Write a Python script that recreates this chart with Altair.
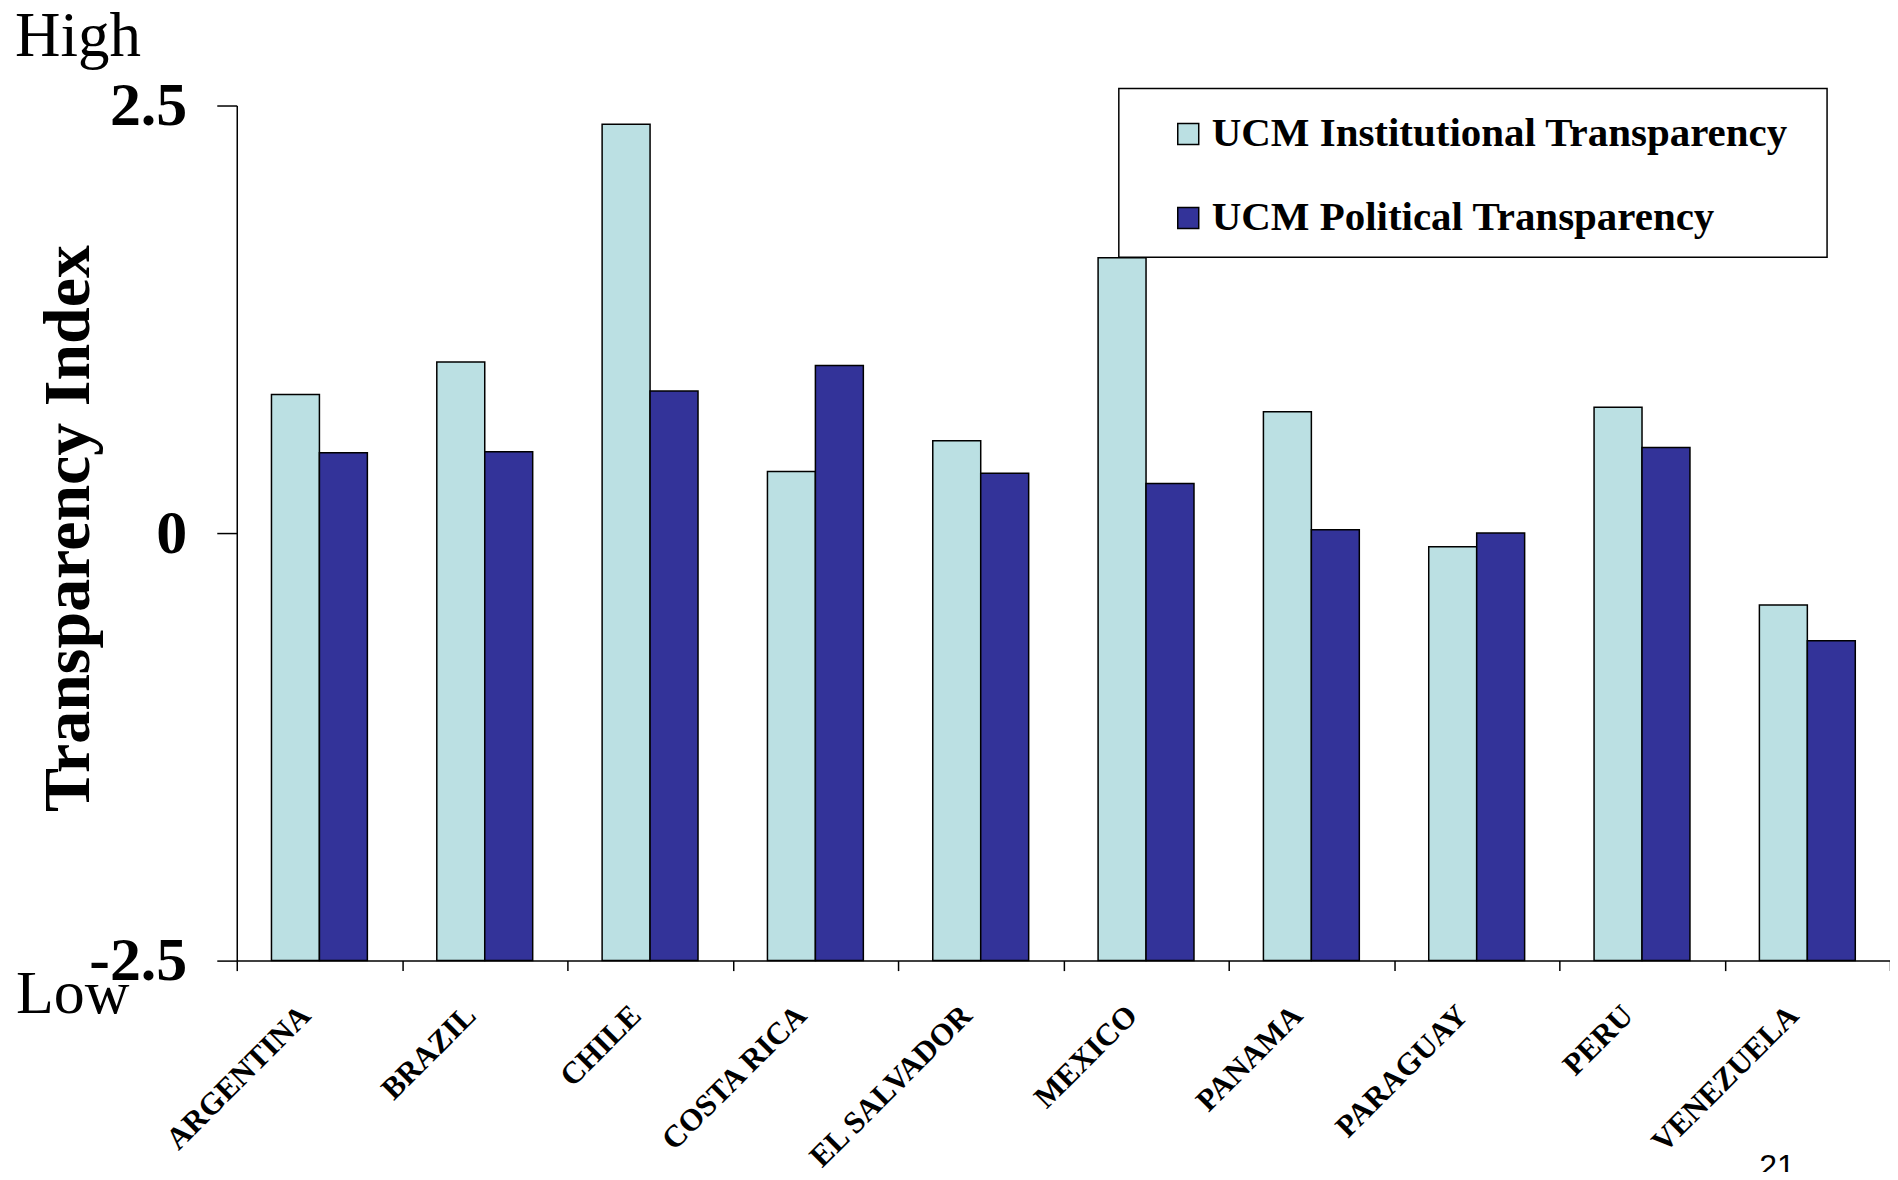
import altair as alt
import pandas as pd

countries = ["ARGENTINA", "BRAZIL", "CHILE", "COSTA RICA", "EL SALVADOR",
             "MEXICO", "PANAMA", "PARAGUAY", "PERU", "VENEZUELA"]
institutional = [0.81, 1.00, 2.39, 0.36, 0.54, 1.61, 0.71, -0.08, 0.735, -0.42]
political = [0.47, 0.475, 0.83, 0.98, 0.35, 0.29, 0.02, 0.0, 0.50, -0.63]
series_names = ["UCM Institutional Transparency", "UCM Political Transparency"]
series_colors = ["#BBE0E3", "#333399"]
y_ticks = [-2.5, 0, 2.5]
y_title = "Transparency Index"
high_label = ["High"]
low_label = ["Low"]
page_number = ["21"]

rows = []
for c, a, b in zip(countries, institutional, political):
    rows.append({"country": c, "series": series_names[0], "value": a})
    rows.append({"country": c, "series": series_names[1], "value": b})
df = pd.DataFrame(rows)

FONT = "Liberation Serif"

bars = alt.Chart(df).mark_bar(stroke="black", strokeWidth=1.5).encode(
    x=alt.X(
        "country:N", sort=countries,
        scale=alt.Scale(paddingInner=0, paddingOuter=0),
        axis=alt.Axis(
            title=None, labelAngle=-45, labelAlign="right", labelBaseline="middle",
            labelFont=FONT, labelFontWeight="bold", labelFontSize=31,
            labelColor="black", labelPadding=40, labelOffset=-14,
            tickBand="extent", tickSize=10,
            tickColor="black", tickWidth=1.5, domainColor="black", domainWidth=1.5,
            grid=False, labelLimit=1000,
        ),
    ),
    xOffset=alt.XOffset("series:N", sort=series_names,
                        scale=alt.Scale(paddingInner=0, paddingOuter=0.724)),
    y=alt.Y(
        "value:Q",
        scale=alt.Scale(domain=[-2.5, 2.5], nice=False, zero=False),
        axis=alt.Axis(
            values=y_ticks, title=y_title, grid=False, format=".1~f",
            labelExpr="replace(datum.label, '\u2212', '-')",
            labelFont=FONT, labelFontWeight="bold", labelFontSize=62,
            labelColor="black", labelPadding=30, tickSize=20, tickColor="black",
            tickWidth=1.5, domainColor="black", domainWidth=1.5,
            titleFont=FONT, titleFontWeight="bold", titleFontSize=66,
            titleColor="black", titleX=-148, titleY=423, titleAngle=270,
            titleBaseline="alphabetic", titleAlign="center",
        ),
    ),
    y2=alt.datum(-2.5),
    color=alt.Color(
        "series:N",
        scale=alt.Scale(domain=series_names, range=series_colors),
        legend=alt.Legend(
            title=None, orient="none", legendX=932, legendY=8, padding=0,
            symbolType="square", symbolSize=441, symbolStrokeColor="black",
            symbolStrokeWidth=1.5, symbolOpacity=1,
            labelFont=FONT, labelFontWeight="bold", labelFontSize=41,
            labelColor="black", labelOffset=3, labelLimit=1000, rowPadding=42,
        ),
    ),
)

box = alt.Chart(pd.DataFrame({"k": [0]})).mark_rect(
    fill="white", stroke="black", strokeWidth=1.5
).encode(x=alt.value(883), x2=alt.value(1592), y=alt.value(-17), y2=alt.value(152))

high = alt.Chart(pd.DataFrame({"t": high_label})).mark_text(
    font=FONT, fontSize=63, color="black", align="left", baseline="alphabetic"
).encode(text="t:N", x=alt.value(-222), y=alt.value(-50))

low = alt.Chart(pd.DataFrame({"t": low_label})).mark_text(
    font=FONT, fontSize=62, color="black", align="left", baseline="alphabetic"
).encode(text="t:N", x=alt.value(-221), y=alt.value(908))

page = alt.Chart(pd.DataFrame({"t": page_number})).mark_text(
    font="Liberation Sans", fontSize=32, color="black", align="left", baseline="alphabetic"
).encode(text="t:N", x=alt.value(1524), y=alt.value(1073))

chart = alt.layer(bars, box, high, low, page).properties(
    width=1655, height=856,
    autosize=alt.AutoSizeParams(type="none"),
    padding={"left": 229, "top": 97, "right": 0, "bottom": 211},
    background="white",
).configure_view(stroke=None).configure_legend(labelFont=FONT, labelFontWeight="bold")

chart.save("out.html", embed_options={"renderer": "svg", "actions": False})
